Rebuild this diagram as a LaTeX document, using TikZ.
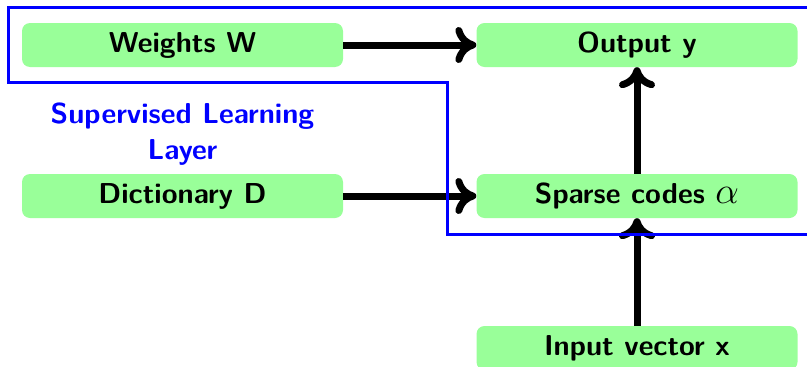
\RequirePackage{fix-cm}
\documentclass[tikz,border=0pt]{standalone}
\usetikzlibrary{arrows.meta}
\definecolor{boxgreen}{RGB}{153,255,153}
\tikzset{
  blk/.style={fill=boxgreen, rounded corners=8pt, minimum width=321pt, minimum height=44pt,
    inner sep=0pt, font=\sffamily\bfseries\fontsize{28.8}{35}\selectfont, text=black},
  conn/.style={line width=7pt, -{Computer Modern Rightarrow[length=21pt,width=36pt]}},
  layer/.style={draw=blue, line width=3pt},
  lbl/.style={text=blue, align=center, font=\sffamily\bfseries\fontsize{28.8}{36}\selectfont}
}
\begin{document}
\begin{tikzpicture}[x=1pt,y=-1pt]
\clip (0,0) rectangle (807,367);
\node[blk] (w) at (182.5,45) {Weights W};
\node[blk] (y) at (637,45) {Output y};
\node[blk] (d) at (182.5,196) {Dictionary D};
\node[blk] (s) at (637,196) {Sparse codes \scalebox{1.3}{$\alpha$}};
\node[blk] (x) at (637,348) {Input vector x};
\node[lbl] (l) at (182.5,134) {Supervised Learning\\Layer};
\draw[conn] (w) -- (y);
\draw[conn] (d) -- (s);
\draw[conn] (s) -- (y);
\draw[conn] (x) -- (s);
\coordinate (p1) at (830,7);
\coordinate (p2) at (8,7);
\coordinate (p3) at (8,82);
\coordinate (p4) at (447,82);
\coordinate (p5) at (447,234);
\coordinate (p6) at (830,234);
\draw[layer] (p1) -- (p2) -- (p3) -- (p4) -- (p5) -- (p6);
\end{tikzpicture}
\end{document}
